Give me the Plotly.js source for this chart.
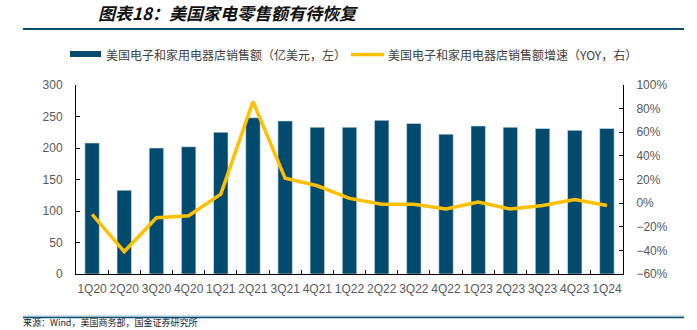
<!DOCTYPE html>
<html>
<head>
<meta charset="utf-8">
<script src="https://cdn.plot.ly/plotly-3.0.1.min.js"></script>
<style>
  html, body { margin: 0; padding: 0; background: #fff; }
  #chart { width: 697px; height: 330px; }
</style>
</head>
<body>
<div id="chart"></div>
<script>
const categories = ['1Q20','2Q20','3Q20','4Q20','1Q21','2Q21','3Q21','4Q21','1Q22','2Q22','3Q22','4Q22','1Q23','2Q23','3Q23','4Q23','1Q24'];
const salesValues = [208, 133, 200, 202, 225, 248, 243, 233, 233, 244, 239, 222, 235, 233, 231, 228, 231];
const yoyValues = [-9.6, -41, -12.4, -10.7, 7.6, 86, 21, 14.7, 4, -1, -1, -5, 1, -5, -2, 3, -2];
const salesName = '美国电子和家用电器店销售额（亿美元，左）';
const yoyName = '美国电子和家用电器店销售额增速（YOY，右）';
const titleText = '图表18：美国家电零售额有待恢复';
const sourceText = '来源：Wind，美国商务部，国金证券研究所';

const barColor = '#034B6E';
const lineColor = '#FFC000';
const tickFont = {family: '"Liberation Sans", Arial, sans-serif', size: 12, color: '#595959'};
const cjk = '"Noto Sans CJK SC", "Liberation Sans", sans-serif';

// plot area in px: left 76, right 623, top 85, bottom 274
const L = 76, R = 623, T = 85, B = 274;
const px = x => (x - L) / (R - L);
const py = y => (B - y) / (B - T);

const traces = [
  {
    type: 'bar', x: categories, y: salesValues, name: salesName,
    marker: {color: barColor, line: {color: '#dfe8ee', width: 0.6}},
    width: 0.45, yaxis: 'y', showlegend: false, hoverinfo: 'x+y'
  },
  {
    type: 'scatter', mode: 'lines', x: categories, y: yoyValues, name: yoyName,
    line: {color: lineColor, width: 3.5}, yaxis: 'y2', showlegend: false
  }
];

const layout = {
  width: 697, height: 330,
  margin: {l: L, r: 697 - R, t: T, b: 330 - B, pad: 0},
  paper_bgcolor: '#fff', plot_bgcolor: '#fff',
  showlegend: false,
  title: {
    text: '<b><i>' + titleText + '</i></b>',
    font: {family: cjk, size: 17, color: '#111'},
    x: 28 / 697, xanchor: 'left', xref: 'paper',
    y: 1 - 14 / 330, yanchor: 'middle', yref: 'container'
  },
  xaxis: {
    type: 'category', range: [-0.5, categories.length - 0.5],
    showline: true, linecolor: '#000', linewidth: 1,
    ticks: 'inside', tickson: 'boundaries', ticklen: 4, tickcolor: '#000',
    tickfont: tickFont, tickangle: 0, showgrid: false, zeroline: false,
    ticklabelstandoff: 4, fixedrange: true
  },
  yaxis: {
    range: [0, 300], dtick: 50, tick0: 0,
    showline: true, linecolor: '#000', linewidth: 1,
    ticks: 'inside', ticklen: 4, tickcolor: '#000',
    tickfont: tickFont, showgrid: false, zeroline: false,
    ticklabelstandoff: 10
  },
  yaxis2: {
    range: [-60, 100], dtick: 20, tick0: 0, ticksuffix: '%',
    overlaying: 'y', side: 'right',
    showline: true, linecolor: '#000', linewidth: 1,
    ticks: 'inside', ticklen: 4, tickcolor: '#000',
    tickfont: tickFont, showgrid: false, zeroline: false,
    ticklabelstandoff: 10
  },
  shapes: [
    {type: 'line', xref: 'paper', yref: 'paper', x0: px(23), x1: px(684), y0: py(29), y1: py(29),
     line: {color: '#0B4F70', width: 2}},
    {type: 'line', xref: 'paper', yref: 'paper', x0: px(23), x1: px(684), y0: py(316), y1: py(316),
     line: {color: '#9fbfd0', width: 1}},
    {type: 'line', xref: 'paper', yref: 'paper', x0: px(23), x1: px(684), y0: py(317.5), y1: py(317.5),
     line: {color: '#0B4F70', width: 1.5}},
    // legend symbols
    {type: 'rect', xref: 'paper', yref: 'paper', x0: px(70), x1: px(101), y0: py(51), y1: py(57),
     fillcolor: barColor, line: {width: 0}},
    {type: 'line', xref: 'paper', yref: 'paper', x0: px(351), x1: px(384), y0: py(54.5), y1: py(54.5),
     line: {color: lineColor, width: 3.5}}
  ],
  annotations: [
    {xref: 'paper', yref: 'paper', x: px(104), y: py(54.5), xanchor: 'left', yanchor: 'middle',
     text: salesName, showarrow: false, font: {family: cjk, size: 12, color: '#404040'}},
    {xref: 'paper', yref: 'paper', x: px(386), y: py(54.5), xanchor: 'left', yanchor: 'middle',
     text: yoyName, showarrow: false, font: {family: cjk, size: 12, color: '#404040'}},
    {xref: 'paper', yref: 'paper', x: px(22), y: py(330), xanchor: 'left', yanchor: 'bottom',
     text: sourceText, showarrow: false, borderpad: 0, font: {family: cjk, size: 9, color: '#222'}}
  ]
};

Plotly.newPlot('chart', traces, layout, {displayModeBar: false, staticPlot: true});
</script>
</body>
</html>
